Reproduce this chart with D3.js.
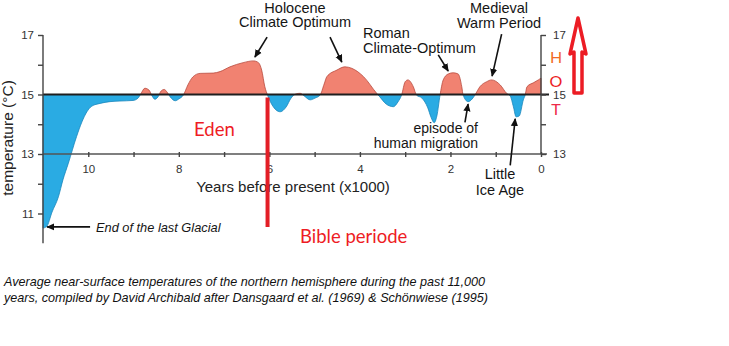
<!DOCTYPE html>
<html>
<head>
<meta charset="utf-8">
<script src="https://cdn.jsdelivr.net/npm/d3@7"></script>
<style>
  html, body { margin: 0; padding: 0; background: #fff; }
  svg { display: block; }
  .sans { font-family: "Liberation Sans", Arial, Helvetica, sans-serif; }
  .hand { font-family: Lato, "Open Sans", sans-serif; }
</style>
</head>
<body>
<svg id="chart" width="729" height="346"></svg>
<script>
// Northern hemisphere temperature, thousands of years before present
const yearsBP = [11.0, 10.92, 10.80, 10.66, 10.56, 10.44, 10.26, 10.14, 10.03, 9.92,
  9.74, 9.52, 9.30, 9.01, 8.90, 8.84, 8.75, 8.66, 8.59, 8.53,
  8.46, 8.39, 8.32, 8.26, 8.19, 8.08, 8.00, 7.90, 7.80, 7.69,
  7.53, 7.24, 7.09, 6.87, 6.58, 6.35, 6.24, 6.17, 6.10, 6.04,
  5.94, 5.76, 5.63, 5.52, 5.41, 5.32, 5.23, 5.10, 4.99, 4.88,
  4.79, 4.73, 4.51, 4.33, 4.18, 3.92, 3.63, 3.56, 3.42, 3.26,
  3.16, 3.08, 3.00, 2.94, 2.82, 2.75, 2.63, 2.50, 2.43, 2.36,
  2.30, 2.23, 2.16, 2.05, 1.94, 1.83, 1.75, 1.72, 1.61, 1.52,
  1.46, 1.35, 1.20, 1.09, 0.90, 0.76, 0.68, 0.61, 0.55, 0.48,
  0.39, 0.35, 0.31, 0.16, 0.06, 0.00];
const temperature = [10.51, 10.56, 11.05, 11.56, 12.13, 12.69, 13.58, 14.08, 14.42, 14.61,
  14.70, 14.76, 14.78, 14.80, 14.88, 15.02, 15.21, 15.15, 14.95, 14.84,
  14.92, 15.12, 15.17, 15.08, 14.92, 14.79, 14.85, 14.98, 15.32, 15.59,
  15.71, 15.72, 15.77, 15.93, 16.07, 16.13, 16.07, 15.82, 15.26, 14.98,
  14.65, 14.42, 14.58, 14.88, 15.02, 15.04, 14.95, 14.82, 14.88, 14.98,
  15.35, 15.60, 15.82, 15.93, 15.88, 15.60, 15.04, 14.92, 14.68, 14.59,
  14.75, 14.98, 15.43, 15.49, 15.26, 14.98, 14.88, 14.55, 14.24, 14.05,
  14.28, 14.98, 15.49, 15.69, 15.73, 15.69, 15.26, 14.98, 14.76, 14.85,
  14.98, 15.26, 15.43, 15.49, 15.32, 15.04, 14.95, 14.59, 14.25, 14.28,
  14.82, 14.98, 15.26, 15.40, 15.49, 15.55];

const baseTemp = 15;
const yearTicks = [10, 9, 8, 7, 6, 5, 4, 3, 2, 1, 0];
const yearLabels = [10, 8, 6, 4, 2, 0];
const tempTicks = [11, 12, 13, 14, 15, 16, 17];
const tempLabels = [11, 13, 15, 17];
const rightTempTicks = [13, 14, 15, 16, 17];

const svg = d3.select("#chart");

const x = d3.scaleLinear().domain([11, 0]).range([43, 541]);
const y = d3.scaleLinear().domain([13, 17]).range([154, 35]);

const series = yearsBP.map((k, i) => ({ k, t: temperature[i] }));

// split the filled area at the 15 °C line with two clip rectangles
const defs = svg.append("defs");
defs.append("clipPath").attr("id", "above")
  .append("rect").attr("x", 0).attr("y", 0).attr("width", 729).attr("height", y(baseTemp));
defs.append("clipPath").attr("id", "below")
  .append("rect").attr("x", 0).attr("y", y(baseTemp)).attr("width", 729).attr("height", 346);

const area = d3.area()
  .x(d => x(d.k))
  .y0(y(baseTemp))
  .y1(d => y(d.t))
  .curve(d3.curveMonotoneX);

svg.append("path").datum(series)
  .attr("clip-path", "url(#above)")
  .attr("d", area)
  .attr("fill", "#f18271")
  .attr("stroke", "#b84a3e").attr("stroke-width", 0.8);

svg.append("path").datum(series)
  .attr("clip-path", "url(#below)")
  .attr("d", area)
  .attr("fill", "#2aabe3")
  .attr("stroke", "#1a86bb").attr("stroke-width", 0.8);

// reference lines at 15 and 13 °C
svg.append("line")
  .attr("x1", x(11)).attr("x2", x(0) + 8)
  .attr("y1", y(baseTemp)).attr("y2", y(baseTemp))
  .attr("stroke", "#1e1e1e").attr("stroke-width", 2);
svg.append("line")
  .attr("x1", x(11)).attr("x2", x(0) + 6)
  .attr("y1", y(13)).attr("y2", y(13))
  .attr("stroke", "#555").attr("stroke-width", 1.6);

// axes
function styleAxis(g) {
  g.selectAll("text").attr("class", "sans").attr("font-size", 11.5).attr("fill", "#333");
  g.selectAll("line").attr("stroke", "#444").attr("stroke-width", 1.4);
  g.select(".domain").remove();
}

const yLeft = d3.scaleLinear().domain([10.1, 17]).range([y(10.1), y(17)]);
svg.append("g").attr("transform", `translate(${x(11)},0)`)
  .call(d3.axisLeft(yLeft).tickValues(tempTicks).tickSize(5).tickPadding(4)
    .tickFormat(v => tempLabels.includes(v) ? v : ""))
  .call(styleAxis);
svg.append("line")
  .attr("x1", x(11)).attr("x2", x(11))
  .attr("y1", yLeft(17)).attr("y2", yLeft(10.1) + 3)
  .attr("stroke", "#444").attr("stroke-width", 1.4);

svg.append("g").attr("transform", `translate(${x(0)},0)`)
  .call(d3.axisRight(y).tickValues(rightTempTicks).tickSize(5).tickPadding(7)
    .tickFormat(v => tempLabels.includes(v) ? v : ""))
  .call(styleAxis);
svg.append("line")
  .attr("x1", x(0)).attr("x2", x(0))
  .attr("y1", y(17)).attr("y2", y(13))
  .attr("stroke", "#444").attr("stroke-width", 1.4);

svg.append("g").attr("transform", `translate(0,${y(13) - 2})`)
  .call(d3.axisBottom(x).tickValues(yearTicks).tickSize(5).tickPadding(8)
    .tickFormat(v => yearLabels.includes(v) ? v : ""))
  .call(styleAxis);

// axis titles
svg.append("text").attr("class", "sans")
  .attr("x", 293).attr("y", 192)
  .attr("text-anchor", "middle")
  .attr("font-size", 15).attr("fill", "#222")
  .text("Years before present (x1000)");

svg.append("text").attr("class", "sans")
  .attr("transform", "translate(13,138) rotate(-90)")
  .attr("text-anchor", "middle")
  .attr("font-size", 15.5).attr("fill", "#222")
  .text("temperature (°C)");

// period annotations
defs.append("marker").attr("id", "head")
  .attr("viewBox", "0 0 10 10").attr("refX", 9).attr("refY", 5)
  .attr("markerWidth", 8).attr("markerHeight", 8)
  .attr("markerUnits", "userSpaceOnUse")
  .attr("orient", "auto")
  .append("path").attr("d", "M0,0.5 L10,5 L0,9.5 Z").attr("fill", "#111");

const arrows = [
  { from: [6.05, 16.93], to: [6.32, 16.26] },
  { from: [4.66, 16.93], to: [4.40, 16.09] },
  { from: [2.27, 16.33], to: [2.05, 15.79] },
  { from: [0.87, 17.03], to: [1.08, 15.62] },
  { from: [1.68, 14.06], to: [1.61, 14.68] },
  { from: [0.68, 12.62], to: [0.57, 14.18] },
  { from: [9.96, 10.55], to: [10.91, 10.55] }
];
svg.append("g").selectAll("line").data(arrows).join("line")
  .attr("x1", d => x(d.from[0])).attr("y1", d => yLeft(d.from[1]))
  .attr("x2", d => x(d.to[0])).attr("y2", d => yLeft(d.to[1]))
  .attr("stroke", "#111").attr("stroke-width", 1.6)
  .attr("marker-end", "url(#head)");

function label(lines, px, py, anchor, opts = {}) {
  const t = svg.append("text").attr("class", "sans")
    .attr("x", px).attr("y", py)
    .attr("text-anchor", anchor)
    .attr("font-size", opts.size || 14.5)
    .attr("fill", "#151515");
  if (opts.italic) t.attr("font-style", "italic");
  lines.forEach((s, i) => {
    t.append("tspan").attr("x", px).attr("dy", i ? (opts.lh || 15) : 0).text(s);
  });
}
label(["Holocene", "Climate Optimum"], 295, 12.5, "middle", { lh: 14.5 });
label(["Roman", "Climate-Optimum"], 363, 38, "start", { lh: 14.5 });
label(["Medieval", "Warm Period"], 499, 12.5, "middle", { lh: 15 });
label(["episode of", "human migration"], 478, 133, "end", { lh: 15, size: 14 });
label(["Little", "Ice Age"], 500, 179, "middle", { lh: 15.5 });
label(["End of the last Glacial"], 96, 232, "start", { size: 12.8, italic: true });

// added remarks in red
svg.append("text").attr("class", "hand")
  .attr("x", 194).attr("y", 136)
  .attr("font-size", 18.5).attr("fill", "#ee1c24")
  .text("Eden");
svg.append("text").attr("class", "hand")
  .attr("x", 300).attr("y", 243)
  .attr("font-size", 18.5).attr("fill", "#ee1c24")
  .text("Bible periode");

const hot = [["H", "#f26a28", 63], ["O", "#ec1c24", 86.5], ["T", "#ee2a48", 115]];
svg.append("g").selectAll("text").data(hot).join("text")
  .attr("class", "hand")
  .attr("x", 556).attr("y", d => d[2])
  .attr("text-anchor", "middle")
  .attr("font-size", 16).attr("fill", d => d[1])
  .text(d => d[0]);

// hollow arrow pointing upward
svg.append("path")
  .attr("d", "M578,18 L586,54 L582,52 L582,93 L574,93 L574,52 L570,54 Z")
  .attr("fill", "#fff").attr("stroke", "#ec1c24")
  .attr("stroke-width", 3.5).attr("stroke-linejoin", "round");

// marker line at 6000 years before present
svg.append("line")
  .attr("x1", x(6.04)).attr("x2", x(6.04))
  .attr("y1", y(baseTemp) + 3).attr("y2", 227)
  .attr("stroke", "#e31e26").attr("stroke-width", 4);

// caption
const caption = [
  "Average near-surface temperatures of the northern hemisphere during the past 11,000",
  "years, compiled by David Archibald after Dansgaard et al. (1969) & Schönwiese (1995)"
];
svg.append("g").selectAll("text").data(caption).join("text")
  .attr("class", "sans")
  .attr("x", 4).attr("y", (d, i) => 286 + i * 16)
  .attr("font-size", 12.6).attr("font-style", "italic").attr("fill", "#111")
  .text(d => d);
</script>
</body>
</html>
